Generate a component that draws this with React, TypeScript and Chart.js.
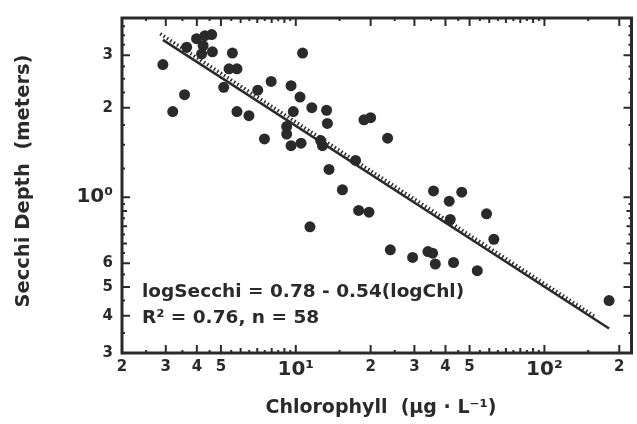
import { useEffect, useRef } from "react";
import { Chart, registerables } from "chart.js";

Chart.register(...registerables);

// Lake samples: chlorophyll (µg/L) against Secchi depth (m)
const chlorophyll = [
  2.92, 3.57, 3.2, 3.99, 4.31, 4.59, 3.64, 4.24, 4.18, 4.62,
  5.56, 10.65, 5.39, 5.8, 5.13, 5.8, 6.48, 7.03, 7.96, 9.57,
  10.4, 11.6, 13.3, 13.4, 9.77, 9.19, 9.19, 7.48, 9.57, 10.5,
  12.6, 12.8, 13.6, 15.4, 11.4, 18.8, 20.0, 23.4, 17.4, 17.9,
  19.7, 35.8, 46.5, 41.4, 58.5, 41.8, 62.6, 24.0, 29.5, 34.0,
  35.5, 36.4, 43.1, 53.7, 182,
];
const secchi = [
  2.79, 2.21, 1.94, 3.41, 3.49, 3.52, 3.19, 3.23, 3.03, 3.08,
  3.05, 3.05, 2.7, 2.7, 2.34, 1.94, 1.88, 2.29, 2.45, 2.37,
  2.17, 2.0, 1.96, 1.77, 1.94, 1.73, 1.63, 1.57, 1.49, 1.52,
  1.55, 1.49, 1.24, 1.06, 0.796, 1.82, 1.85, 1.58, 1.33, 0.903,
  0.891, 1.05, 1.04, 0.97, 0.88, 0.843, 0.723, 0.666, 0.628, 0.657,
  0.649, 0.597, 0.604, 0.567, 0.45,
];

// Fitted regression: logSecchi = 0.78 - 0.54(logChl)
const fitIntercept = 0.78;
const fitSlope = -0.54;
const fitChlRange = [2.92, 182];

// Companion (hatched) line drawn just above the fit
const hatchChl = [2.85, 160];
const hatchSecchi = [3.54, 0.397];

// Axis ticks
const xTickValues = [2, 3, 4, 5, 10, 20, 30, 40, 50, 100, 200];
const xTickLabels = ["2", "3", "4", "5", "10¹", "2", "3", "4", "5", "10²", "2"];
const yTickValues = [0.3, 0.4, 0.5, 0.6, 1, 2, 3];
const yTickLabels = ["3", "4", "5", "6", "10⁰", "2", "3"];

// Inward tick marks on the frame
const xMarks = [2, 3, 4, 5, 6, 7, 8, 9, 10, 20, 30, 40, 50, 60, 70, 80, 90, 100, 200];
const xMinorMarks = [2.5, 3.5, 4.5, 5.5, 6.5, 7.5, 8.5, 9.5, 15, 25, 35, 45, 55, 65, 75, 85, 95, 150];
const yMarks = [0.3, 0.4, 0.5, 0.6, 0.7, 0.8, 0.9, 1, 2, 3, 4];
const yMinorMarks = [0.35, 0.45, 0.55, 0.65, 0.75, 0.85, 0.95, 1.25, 1.5, 1.75, 2.25, 2.5, 2.75, 3.25, 3.5, 3.75];

const FONT = '"DejaVu Sans", "Liberation Sans", sans-serif';
const INK = "#2a2a2a";

const framePlugin = {
  id: "frameAndText",
  afterDatasetsDraw(chart: any) {
    const { ctx, chartArea: a, scales } = chart;
    const x = scales.x;
    const y = scales.y;
    ctx.save();
    ctx.strokeStyle = INK;
    ctx.lineCap = "butt";

    const vTick = (v: number, len: number) => {
      const px = x.getPixelForValue(v);
      ctx.beginPath();
      ctx.moveTo(px, a.bottom);
      ctx.lineTo(px, a.bottom - len);
      ctx.moveTo(px, a.top);
      ctx.lineTo(px, a.top + len);
      ctx.stroke();
    };
    const hTick = (v: number, len: number) => {
      const py = y.getPixelForValue(v);
      ctx.beginPath();
      ctx.moveTo(a.left, py);
      ctx.lineTo(a.left + len, py);
      ctx.moveTo(a.right, py);
      ctx.lineTo(a.right - len, py);
      ctx.stroke();
    };
    ctx.lineWidth = 2;
    xMarks.forEach((v) => vTick(v, xTickValues.includes(v) ? 8 : 5));
    xMinorMarks.forEach((v) => vTick(v, 3));
    yMarks.forEach((v) => hTick(v, yTickValues.includes(v) ? 8 : 5));
    yMinorMarks.forEach((v) => hTick(v, 3));

    ctx.lineWidth = 3;
    ctx.strokeRect(a.left, a.top, a.right - a.left, a.bottom - a.top);

    ctx.fillStyle = INK;
    ctx.font = `bold 18.5px ${FONT}`;
    ctx.textAlign = "left";
    ctx.textBaseline = "alphabetic";
    ctx.fillText("logSecchi = 0.78 - 0.54(logChl)", 142, 297);
    ctx.fillText("R² = 0.76, n = 58", 142, 323);

    ctx.font = `bold 19px ${FONT}`;
    ctx.textAlign = "center";
    ctx.textBaseline = "middle";
    ctx.fillText("Chlorophyll  (µg · L⁻¹)", 381, 408);

    ctx.translate(24, 181);
    ctx.rotate(-Math.PI / 2);
    ctx.font = `bold 19.5px ${FONT}`;
    ctx.fillText("Secchi Depth  (meters)", 0, 0);
    ctx.restore();
  },
};

export default function App() {
  const ref = useRef<HTMLCanvasElement>(null);

  useEffect(() => {
    if (!ref.current) return;
    const points = chlorophyll.map((c, i) => ({ x: c, y: secchi[i] }));
    const fitLine = fitChlRange.map((c) => ({
      x: c,
      y: Math.pow(10, fitIntercept + fitSlope * Math.log10(c)),
    }));
    const hatchLine = hatchChl.map((c, i) => ({ x: c, y: hatchSecchi[i] }));

    const tickFont = (c: any, labels: string[]) => {
      const big = labels[c.index] && labels[c.index].startsWith("10");
      return { family: FONT, weight: "bold" as const, size: big ? 20 : 15 };
    };

    const chart = new Chart(ref.current, {
      type: "scatter",
      data: {
        datasets: [
          {
            type: "line",
            data: hatchLine,
            borderColor: INK,
            borderWidth: 3.5,
            borderDash: [1.5, 2.5],
            pointRadius: 0,
            fill: false,
          },
          {
            type: "line",
            data: fitLine,
            borderColor: INK,
            borderWidth: 2.5,
            pointRadius: 0,
            fill: false,
          },
          {
            data: points,
            backgroundColor: INK,
            borderWidth: 0,
            pointRadius: 5.5,
          },
        ],
      } as any,
      options: {
        animation: false,
        responsive: false,
        layout: { padding: { top: 16, right: 3, left: 0, bottom: 0 } },
        plugins: { legend: { display: false }, tooltip: { enabled: false } },
        scales: {
          x: {
            type: "logarithmic",
            min: 2,
            max: 224,
            grid: { display: false, drawTicks: false },
            border: { display: false },
            afterBuildTicks: (s: any) => {
              s.ticks = xTickValues.map((v) => ({ value: v }));
            },
            afterFit: (s: any) => {
              s.height = 71;
            },
            ticks: {
              autoSkip: false,
              maxRotation: 0,
              padding: 5,
              color: INK,
              callback: (_v: any, i: number) => xTickLabels[i],
              font: (c: any) => tickFont(c, xTickLabels),
            },
          },
          y: {
            type: "logarithmic",
            min: 0.3,
            max: 4,
            grid: { display: false, drawTicks: false },
            border: { display: false },
            afterBuildTicks: (s: any) => {
              s.ticks = yTickValues.map((v) => ({ value: v }));
            },
            afterFit: (s: any) => {
              s.width = 122;
            },
            ticks: {
              autoSkip: false,
              padding: 9,
              color: INK,
              callback: (_v: any, i: number) => yTickLabels[i],
              font: (c: any) => tickFont(c, yTickLabels),
            },
          },
        },
      } as any,
      plugins: [framePlugin],
    });
    return () => chart.destroy();
  }, []);

  return (
    <div style={{ position: "fixed", left: 0, top: 0, width: 637, height: 424, background: "#fff" }}>
      <canvas ref={ref} width={637} height={424} style={{ display: "block" }} />
    </div>
  );
}
